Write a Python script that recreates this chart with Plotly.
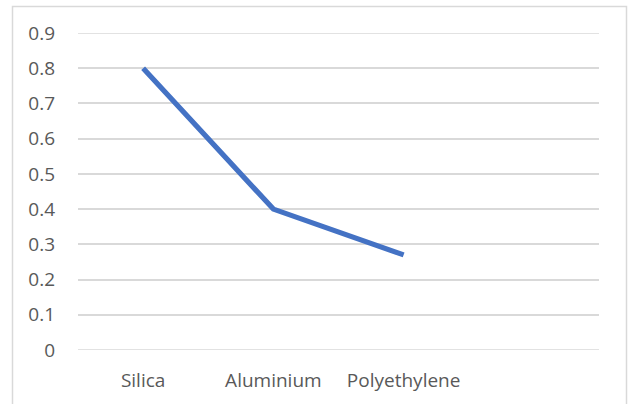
import plotly.graph_objects as go

# Material values plotted along a categorical axis (one spare slot at the end)
materials = ["Silica", "Aluminium", "Polyethylene"]
values = [0.8, 0.4, 0.27]
slots = materials + [" "]
y_ticks = [0, 0.1, 0.2, 0.3, 0.4, 0.5, 0.6, 0.7, 0.8, 0.9]

W, H = 628, 404
L, R, T, B = 78, 29, 33, 54

fig = go.Figure()
fig.add_trace(go.Scatter(
    x=materials, y=values, mode="lines",
    line=dict(color="#4472C4", width=5.2),
    hoverinfo="x+y", showlegend=False,
))

label_font = dict(family="Open Sans, Lato, sans-serif", size=19, color="#595959")

fig.update_layout(
    width=W, height=H,
    margin=dict(l=L, r=R, t=T, b=B),
    paper_bgcolor="white", plot_bgcolor="white",
    xaxis=dict(
        type="category", categoryorder="array", categoryarray=slots,
        range=[-0.5, len(slots) - 0.5],
        showgrid=False, zeroline=False, showline=False, ticks="",
        tickfont=label_font, ticklabelstandoff=17,
    ),
    yaxis=dict(
        range=[0, 0.9], tickvals=y_ticks,
        ticktext=[f"{v:g}" for v in y_ticks],
        showgrid=True, gridcolor="#D9D9D9", gridwidth=1.5,
        zeroline=False, showline=False, ticks="",
        tickfont=label_font, ticklabelstandoff=22,
    ),
)

# Light outer frame around the chart area
pw, ph = W - L - R, H - T - B
def px_x(p):
    return (p - L) / pw
def px_y(p):
    return (H - B - p) / ph

fig.add_shape(
    type="rect", xref="paper", yref="paper",
    x0=px_x(12.5), x1=px_x(626.5), y0=px_y(6.5), y1=px_y(420),
    line=dict(color="#D9D9D9", width=1.5), fillcolor="rgba(0,0,0,0)",
    layer="below",
)
# Gridlines on the two edges of the value range
for edge in (y_ticks[0], y_ticks[-1]):
    fig.add_shape(
        type="line", xref="paper", yref="y",
        x0=0, x1=1, y0=edge, y1=edge,
        line=dict(color="#D9D9D9", width=1.5), layer="below",
    )

fig.write_html("out.html")
